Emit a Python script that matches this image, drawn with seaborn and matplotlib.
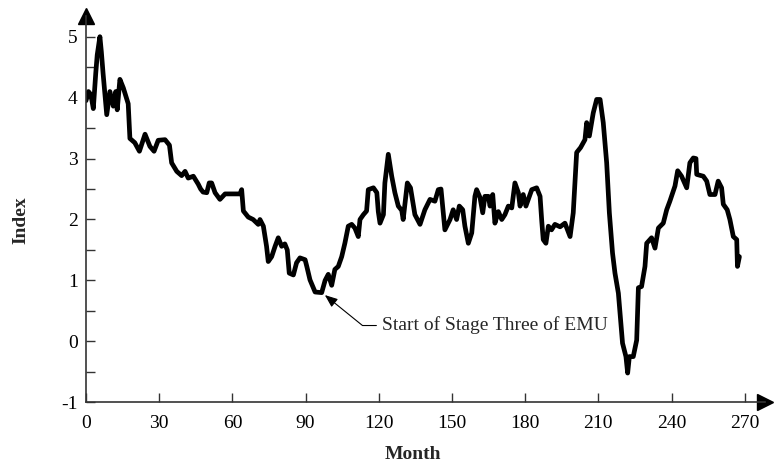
import numpy as np
import pandas as pd
import seaborn as sns
import matplotlib.pyplot as plt

# Index values (month, index)
months = [0, 1, 2, 3, 4, 4.6, 5.7, 6.3, 7, 8.5, 9.8, 11.2, 12.2, 12.8, 13.9, 15.3, 17.3,
          18, 20, 21.9, 24.2, 26.2, 27.9, 29.6, 32.4, 34.2, 35.1, 37.2, 39.2, 40.6, 41.9,
          44, 46, 47, 48, 49.5, 50.5, 51.5, 52.9, 54.9, 57, 63.1, 63.8, 64.5, 66.5, 68.5,
          70.6, 71.3, 72.7, 74, 74.7, 76.1, 77.5, 78.8, 80.2, 81.5, 82.5, 83.3, 85, 86.3,
          87.7, 89.8, 90.5, 91.8, 93.9, 96.6, 98, 99.3, 100.7, 102, 103.4, 104.8, 106.1,
          107.5, 108.9, 110.2, 111.6, 112.3, 113.7, 115, 115.7, 117.8, 119.2, 119.8, 120.5,
          121.9, 122.5, 123.9, 125.3, 126.6, 128, 129.4, 130, 131.7, 133, 134.8, 136.9,
          138.9, 141, 143, 144.4, 145.5, 147.1, 149.2, 150.5, 151.9, 153, 154.4, 155.3,
          156.7, 158.1, 159.4, 160.1, 161.5, 162.6, 163.5, 164.9, 165.6, 166.7, 167.6, 169,
          170.4, 171.7, 173.1, 174.5, 175.8, 177.2, 177.9, 179.2, 180.3, 181.7, 182.7,
          184.7, 186.1, 186.8, 187.4, 188.5, 189.5, 190.8, 192.2, 194.3, 196.3, 198.4,
          199.7, 201.1, 202.7, 204.5, 205.2, 206.3, 207.2, 207.9, 209.3, 210.7, 212, 213.4,
          214.5, 215.8, 216.8, 218.2, 218.9, 219.9, 221.3, 222, 222.7, 224.3, 225.7, 226.4,
          227.7, 229.1, 229.8, 231.8, 233.2, 234.6, 236.6, 238, 239.3, 241.4, 242.5, 244.1,
          246.2, 247.5, 248.9, 250, 250.3, 253, 254.4, 255.7, 257.8, 259.1, 260.5, 261.2,
          262.8, 263.9, 265.3, 266.7, 267, 267.8]
index = [3.95, 4.1, 4.05, 3.82, 4.4, 4.7, 5.0, 4.75, 4.4, 3.72, 4.1, 3.86, 4.1, 3.8, 4.3, 4.16, 3.9,
         3.33, 3.26, 3.12, 3.4, 3.2, 3.12, 3.3, 3.31, 3.22, 2.93, 2.79, 2.72, 2.79, 2.68,
         2.71, 2.58, 2.5, 2.45, 2.44, 2.6, 2.6, 2.44, 2.33, 2.42, 2.42, 2.49, 2.14, 2.04, 2.0,
         1.92, 2.0, 1.89, 1.56, 1.31, 1.39, 1.56, 1.7, 1.56, 1.6, 1.5, 1.12, 1.09, 1.29,
         1.37, 1.34, 1.23, 1.01, 0.81, 0.8, 1.0, 1.1, 0.92, 1.18, 1.23, 1.39, 1.61,
         1.89, 1.92, 1.86, 1.72, 2.0, 2.08, 2.14, 2.49, 2.52, 2.44, 2.13, 1.94,
         2.08, 2.6, 3.07, 2.71, 2.44, 2.22, 2.15, 2.0, 2.6, 2.52, 2.08, 1.92,
         2.16, 2.33, 2.3, 2.49, 2.5, 1.83, 2.0, 2.16, 2.0, 2.22, 2.16, 1.89,
         1.61, 1.78, 2.38, 2.49, 2.36, 2.11, 2.38, 2.38, 2.22, 2.41, 1.94, 2.13,
         2.0, 2.08, 2.22, 2.19, 2.6, 2.44, 2.22, 2.41, 2.22, 2.38, 2.49,
         2.52, 2.38, 1.97, 1.67, 1.61, 1.89, 1.83, 1.92, 1.88, 1.94, 1.72,
         2.11, 3.1, 3.18, 3.31, 3.59, 3.37, 3.59, 3.75, 3.97, 3.97, 3.59, 2.93,
         2.11, 1.45, 1.12, 0.79, 0.46, -0.03, -0.25, -0.52, -0.25, -0.25, 0.02, 0.88,
         0.9, 1.23, 1.61, 1.7, 1.53, 1.86, 1.94, 2.16, 2.3, 2.55, 2.8, 2.71,
         2.52, 2.93, 3.01, 3.0, 2.74, 2.71, 2.63, 2.41, 2.41, 2.63, 2.52, 2.25,
         2.16, 2.0, 1.72, 1.67, 1.23, 1.39]

x_ticks = [0, 30, 60, 90, 120, 150, 180, 210, 240, 270]
y_ticks = [-1, 0, 1, 2, 3, 4, 5]
note = "Start of Stage Three of EMU"

df = pd.DataFrame({"Month": months, "Index": index})

sns.set_style("ticks")
plt.rcParams["font.family"] = ["Liberation Serif", "DejaVu Serif"]
plt.rcParams["axes.unicode_minus"] = False

fig = plt.figure(figsize=(7.74, 4.66), dpi=100)
ax = fig.add_axes([0.1111, 0.1367, 0.8773, 0.829])

sns.lineplot(data=df, x="Month", y="Index", color="black", linewidth=3.4,
             estimator=None, solid_joinstyle="round", ax=ax)

ax.set_xlim(0, 278.3)
ax.set_ylim(-1, 5.34)
ax.set_xticks(x_ticks)
ax.set_yticks(y_ticks)
ax.set_yticks(np.arange(-0.5, 5, 1.0), minor=True)
ax.tick_params(axis="both", direction="in", length=6.5, width=1, color="#333333",
               labelsize=14, labelcolor="black")
ax.tick_params(axis="y", which="minor", direction="in", length=6.5, width=1, color="#333333")
ax.tick_params(axis="x", pad=9)
ax.tick_params(axis="y", pad=6)

for side in ["top", "right"]:
    ax.spines[side].set_visible(False)
for side in ["left", "bottom"]:
    ax.spines[side].set_color("#333333")
    ax.spines[side].set_linewidth(1.2)

# arrow heads at the axis ends
ax.plot([0], [1], marker="^", markersize=11, color="black", transform=ax.transAxes, clip_on=False)
ax.plot([1], [0], marker=">", markersize=11, color="black", transform=ax.transAxes, clip_on=False)

ax.set_xlabel("Month", fontsize=14, fontweight="bold")
ax.set_ylabel("Index", fontsize=14, fontweight="bold")
ax.xaxis.set_label_coords(0.4816, -0.112)
ax.yaxis.set_label_coords(-0.084, 0.472)

ax.annotate(note, xy=(97.9, 0.76), xytext=(121.5, 0.26), fontsize=14,
            ha="left", va="center",
            arrowprops=dict(arrowstyle="-|>,head_length=0.55,head_width=0.22",
                            color="black", lw=0.8, relpos=(0, 0.5), shrinkA=2, shrinkB=0,
                            connectionstyle="angle,angleA=0,angleB=-39"))

plt.savefig("out.png", dpi=100)
plt.close()
